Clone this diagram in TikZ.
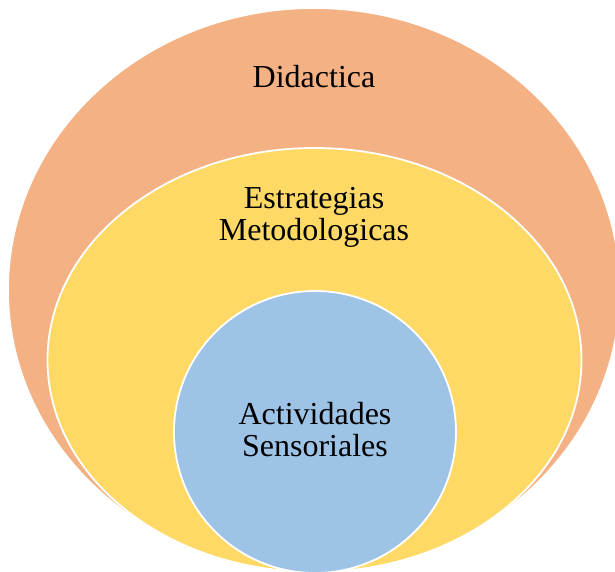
\documentclass[tikz,border=0pt]{standalone}
\usepackage{fontspec}
\setmainfont{Liberation Serif}
\definecolor{ringorange}{HTML}{F4B183}
\definecolor{ringgold}{HTML}{FFD966}
\definecolor{ringblue}{HTML}{9DC3E6}
\begin{document}
\begin{tikzpicture}[x=1pt,y=-1pt,
  ring/.style={draw=white,line width=1.8pt},
  lbl/.style={font=\fontsize{32}{32}\selectfont,inner sep=0pt,align=center,text=black}]
\useasboundingbox (0,0) rectangle (615,571);
\clip (0,0) rectangle (615,571);
\fill[white] (0,0) rectangle (615,571);
\path[ring,fill=ringorange] (314,290) ellipse [x radius=306, y radius=282];
\path[ring,fill=ringgold] (314.5,360) ellipse [x radius=267, y radius=212];
\path[ring,fill=ringblue] (315,432) circle [radius=141];
\node[lbl,anchor=base] (didactica) at (314,87) {Didactica};
\node[lbl,anchor=center] (estrategias) at (314,217.5) {Estrategias\\Metodologicas};
\node[lbl,anchor=center] (actividades) at (315,429.5) {Actividades\\Sensoriales};
\end{tikzpicture}
\end{document}
